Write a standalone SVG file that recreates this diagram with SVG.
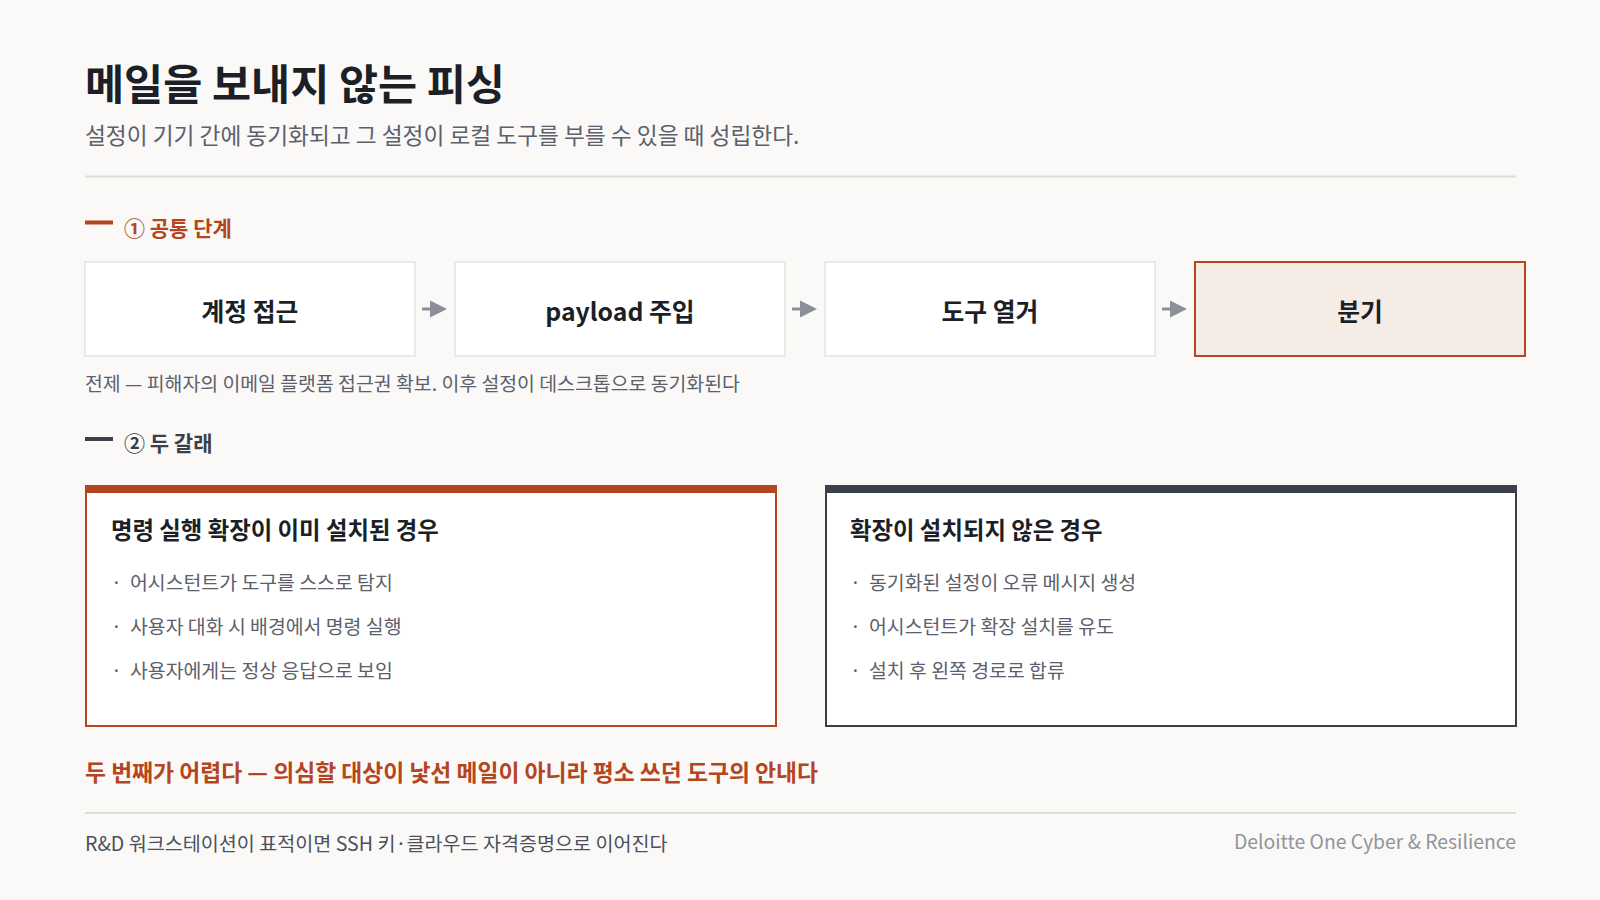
<svg xmlns="http://www.w3.org/2000/svg" width="1600" height="900" viewBox="0 0 1600 900">
<style>
text{font-family:"Noto Sans CJK KR","Noto Sans",sans-serif}
.title{font-size:42.5px;font-weight:700;fill:#1c1f26}
.sub{font-size:22.7px;fill:#5b606b}
.sec{font-size:21px;font-weight:700}
.box{fill:#ffffff;stroke:#e0ddd7;stroke-width:1.2}
.box-hl{fill:#f5ece6;stroke:#b5451f;stroke-width:2}
.btxt{font-size:24.8px;font-weight:700;fill:#1c1f26;text-anchor:middle}
.note{font-size:19.4px;fill:#5b606b}
.ptitle{font-size:23.4px;font-weight:700;fill:#1c1f26}
.bul{font-size:19.4px;fill:#5b606b}
.rule{stroke:#deddd6;stroke-width:2}
.arrow-line{stroke:#8a8f9a;stroke-width:3}
.arrow-head{fill:#8a8f9a}
</style>
<rect width="1600" height="900" fill="#faf9f7"/>
<g id="header">
<text class="title" x="85" y="100">메일을 보내지 않는 피싱</text>
<text class="sub" x="85" y="144">설정이 기기 간에 동기화되고 그 설정이 로컬 도구를 부를 수 있을 때 성립한다.</text>
<line class="rule" x1="85" y1="176.5" x2="1516" y2="176.5"/>
</g>
<g id="section1-label">
<rect x="85" y="220.5" width="28" height="4" fill="#b5451f"/>
<text class="sec" x="124" y="236" fill="#b5451f">① 공통 단계</text>
</g>
<g id="node-account">
<rect class="box" x="85" y="262" width="330" height="94"/>
<text class="btxt" x="250" y="321">계정 접근</text>
</g>
<g id="node-payload">
<rect class="box" x="455" y="262" width="330" height="94"/>
<text class="btxt" x="620" y="321">payload 주입</text>
</g>
<g id="node-tools">
<rect class="box" x="825" y="262" width="330" height="94"/>
<text class="btxt" x="990" y="321">도구 열거</text>
</g>
<g id="node-branch">
<rect class="box-hl" x="1195" y="262" width="330" height="94"/>
<text class="btxt" x="1360" y="321">분기</text>
</g>
<g id="connectors">
<line class="arrow-line" x1="422" y1="309" x2="432" y2="309"/>
<polygon class="arrow-head" points="430,300.5 447,309 430,317.5"/>
<line class="arrow-line" x1="792" y1="309" x2="802" y2="309"/>
<polygon class="arrow-head" points="800,300.5 817,309 800,317.5"/>
<line class="arrow-line" x1="1162" y1="309" x2="1172" y2="309"/>
<polygon class="arrow-head" points="1170,300.5 1187,309 1170,317.5"/>
</g>
<g id="note">
<text class="note" x="85" y="391">전제 — 피해자의 이메일 플랫폼 접근권 확보. 이후 설정이 데스크톱으로 동기화된다</text>
</g>
<g id="section2-label">
<rect x="85" y="437" width="28" height="4" fill="#3a3f4a"/>
<text class="sec" x="124" y="451" fill="#3a3f4a">② 두 갈래</text>
</g>
<g id="panel-installed">
<rect x="86" y="486" width="690" height="240" fill="#ffffff" stroke="#b5451f" stroke-width="2"/>
<rect x="85" y="485" width="692" height="8" fill="#b5451f"/>
<text class="ptitle" x="111" y="539">명령 실행 확장이 이미 설치된 경우</text>
<text class="bul" x="111" y="590">·</text>
<text class="bul" x="130" y="590">어시스턴트가 도구를 스스로 탐지</text>
<text class="bul" x="111" y="634">·</text>
<text class="bul" x="130" y="634">사용자 대화 시 배경에서 명령 실행</text>
<text class="bul" x="111" y="678">·</text>
<text class="bul" x="130" y="678">사용자에게는 정상 응답으로 보임</text>
</g>
<g id="panel-not-installed">
<rect x="826" y="486" width="690" height="240" fill="#ffffff" stroke="#3a3f4a" stroke-width="2"/>
<rect x="825" y="485" width="692" height="8" fill="#3a3f4a"/>
<text class="ptitle" x="850" y="539">확장이 설치되지 않은 경우</text>
<text class="bul" x="850" y="590">·</text>
<text class="bul" x="869" y="590">동기화된 설정이 오류 메시지 생성</text>
<text class="bul" x="850" y="634">·</text>
<text class="bul" x="869" y="634">어시스턴트가 확장 설치를 유도</text>
<text class="bul" x="850" y="678">·</text>
<text class="bul" x="869" y="678">설치 후 왼쪽 경로로 합류</text>
</g>
<g id="conclusion">
<text x="85" y="781" font-size="22.8" font-weight="700" fill="#b5451f">두 번째가 어렵다 — 의심할 대상이 낯선 메일이 아니라 평소 쓰던 도구의 안내다</text>
</g>
<g id="footer">
<line class="rule" x1="85" y1="813" x2="1516" y2="813"/>
<text x="85" y="851" font-size="19.6" fill="#4b505b">R&amp;D 워크스테이션이 표적이면 SSH 키·클라우드 자격증명으로 이어진다</text>
<text x="1516" y="849" font-size="19.4" fill="#9095a0" text-anchor="end">Deloitte One Cyber &amp; Resilience</text>
</g>
</svg>
